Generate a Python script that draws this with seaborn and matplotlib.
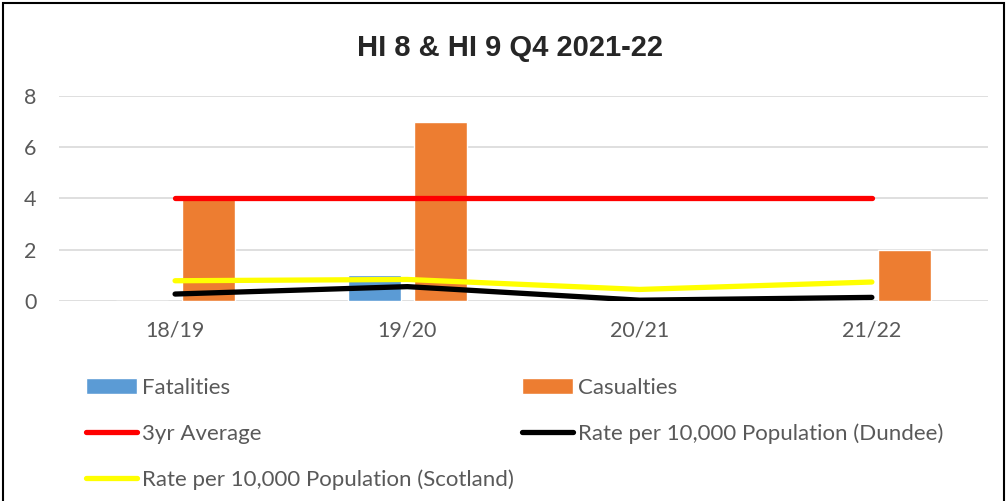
import matplotlib
matplotlib.use("Agg")
import matplotlib.pyplot as plt
from matplotlib.patches import Patch, Rectangle
from matplotlib.lines import Line2D
import seaborn as sns
import pandas as pd

years = ["18/19", "19/20", "20/21", "21/22"]
fatalities = [0, 1, 0, 0]
casualties = [4, 7, 0, 2]
three_yr_avg = [4, 4, 4, 4]
rate_dundee = [0.26, 0.55, 0.02, 0.13]
rate_scotland = [0.78, 0.83, 0.44, 0.73]

sns.set_theme(style="white")
plt.rcParams["font.family"] = ["Lato", "DejaVu Sans"]

fig = plt.figure(figsize=(10.06, 5.01), dpi=100)
ax = fig.add_axes([0.0586, 0.3998, 0.9235, 0.4086])

bars = pd.DataFrame({
    "Year": years * 2,
    "Value": fatalities + casualties,
    "Series": ["Fatalities"] * 4 + ["Casualties"] * 4,
})
bar_colors = {"Fatalities": "#5b9bd5", "Casualties": "#ed7d31"}
sns.barplot(data=bars, x="Year", y="Value", hue="Series", palette=bar_colors,
            width=0.57, gap=0.2, saturation=1, legend=False, ax=ax, zorder=2)

pos = list(range(len(years)))
line_specs = [
    ("3yr Average", three_yr_avg, "#ff0000"),
    ("Rate per 10,000 Population (Dundee)", rate_dundee, "#000000"),
    ("Rate per 10,000 Population (Scotland)", rate_scotland, "#ffff00"),
]
for name, vals, col in line_specs:
    sns.lineplot(x=pos, y=vals, color=col, linewidth=3.8, ax=ax,
                 solid_capstyle="round", zorder=3)

ax.set_xlim(-0.5, 3.5)
ax.set_ylim(0, 8)
ax.set_yticks([0, 2, 4, 6, 8])
ax.set_xlabel("")
ax.set_ylabel("")
ax.yaxis.grid(True, color="#d9d9d9", linewidth=1.2, zorder=0)
ax.set_axisbelow(True)
for s in ax.spines.values():
    s.set_visible(False)
ax.tick_params(axis="both", length=0, labelsize=15.5, labelcolor="#595959")
ax.tick_params(axis="x", pad=14)
ax.tick_params(axis="y", pad=16)

fig.text(0.507, 0.905, "HI 8 & HI 9 Q4 2021-22", ha="center", va="center",
         fontsize=21, fontweight="bold",
         family=["Liberation Sans Narrow", "Liberation Sans", "DejaVu Sans"])

handles = [
    Patch(facecolor="#5b9bd5", label="Fatalities"),
    Line2D([], [], color="#ff0000", lw=3.8, solid_capstyle="round", label="3yr Average"),
    Line2D([], [], color="#ffff00", lw=3.8, solid_capstyle="round",
           label="Rate per 10,000 Population (Scotland)"),
    Patch(facecolor="#ed7d31", label="Casualties"),
    Line2D([], [], color="#000000", lw=3.8, solid_capstyle="round",
           label="Rate per 10,000 Population (Dundee)"),
]
leg = fig.legend(handles=handles, ncol=2, loc="upper left",
                 bbox_to_anchor=(0.074, 0.268), frameon=False,
                 fontsize=16, handlelength=2.3, handletextpad=0.22,
                 columnspacing=0.4, labelspacing=1.16, borderpad=0)
for t in leg.get_texts():
    t.set_color("#595959")

fig.patches.append(Rectangle((0.003, -0.01), 0.995, 1.004, transform=fig.transFigure,
                             fill=False, edgecolor="black", linewidth=1.5))

fig.savefig("out.png", dpi=100)
